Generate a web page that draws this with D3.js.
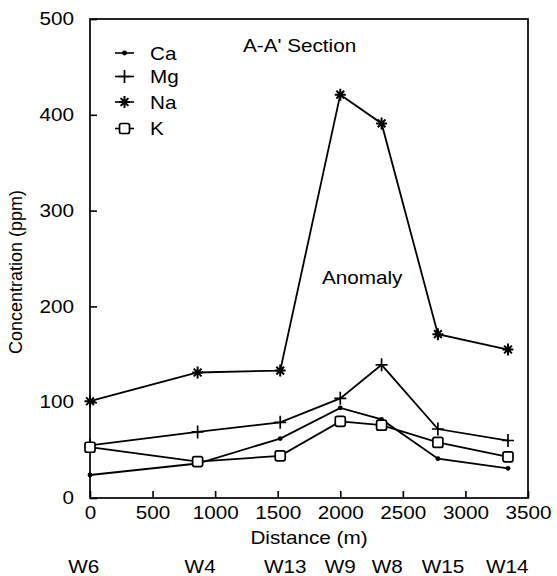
<!DOCTYPE html>
<html><head><meta charset="utf-8">
<script src="https://cdn.jsdelivr.net/npm/d3@7"></script>
<style>body{margin:0;background:#fff}svg{display:block}text{font-family:"Liberation Sans",Arial,sans-serif;fill:#000}</style>
</head><body>
<svg id="c" width="557" height="576"></svg>
<script>
const distances = [0, 860, 1520, 2000, 2330, 2780, 3340];
const wells = ["W6", "W4", "W13", "W9", "W8", "W15", "W14"];
const wellLabelDistance = [-50, 880, 1560, 2000, 2375, 2820, 3335];
const ca = [24, 36, 62, 94, 82, 41, 31];
const mg = [55, 69, 79, 104, 139, 72, 60];
const na = [101, 131, 133, 421, 391, 171, 155];
const k  = [53, 38, 44, 80, 76, 58, 43];
const xTicks = [0, 500, 1000, 1500, 2000, 2500, 3000, 3500];
const yTicks = [0, 100, 200, 300, 400, 500];

const svg = d3.select("#c");
const x = d3.scaleLinear().domain([0, 3500]).range([90, 528]);
const y = d3.scaleLinear().domain([0, 500]).range([498, 19]);
const fs = 18, sx = 1.15;

function txt(px, py, s, anchor) {
  return svg.append("text").attr("transform", `translate(${px},${py}) scale(${sx},1)`)
    .attr("text-anchor", anchor || "start").attr("font-size", fs).text(s);
}

// frame
svg.append("rect").attr("x", 90).attr("y", 19).attr("width", 438).attr("height", 479)
  .attr("fill", "none").attr("stroke", "#000").attr("stroke-width", 1.7);

// x axis
const xa = svg.append("g").attr("transform", "translate(0,498)")
  .call(d3.axisBottom(x).tickValues(xTicks).tickSizeInner(-7).tickSizeOuter(0).tickPadding(8).tickFormat(d3.format("d")));
xa.select(".domain").remove();
xa.selectAll("line").attr("stroke-width", 1.6);
xa.selectAll("text").attr("font-size", fs).attr("transform", `scale(${sx},1)`).style("font-family", "Liberation Sans, Arial, sans-serif");

// y axis
const ya = svg.append("g").attr("transform", "translate(90,0)")
  .call(d3.axisLeft(y).tickValues(yTicks).tickSizeInner(-7).tickSizeOuter(0).tickPadding(14).tickFormat(d3.format("d")));
ya.select(".domain").remove();
ya.selectAll("line").attr("stroke-width", 1.6);
ya.selectAll("text").attr("font-size", fs).attr("transform", `scale(${sx},1)`).style("font-family", "Liberation Sans, Arial, sans-serif");

txt(309, 543.5, "Distance (m)", "middle");
svg.append("text").attr("transform", "translate(22,272) rotate(-90)").attr("text-anchor", "middle").attr("font-size", fs).text("Concentration (ppm)");
txt(243, 51.5, "A-A' Section");
txt(322, 284, "Anomaly");

// well labels
wells.forEach((w, i) => txt(x(wellLabelDistance[i]), 573, w, "middle"));

// markers
function marker(g, type, cx, cy) {
  if (type === "ca") {
    g.append("circle").attr("cx", cx).attr("cy", cy).attr("r", 2.4).attr("fill", "#000");
  } else if (type === "mg") {
    g.append("path").attr("d", `M${cx-6},${cy}H${cx+6}M${cx},${cy-6.5}V${cy+6.5}`).attr("stroke", "#000").attr("stroke-width", 1.7).attr("fill", "none");
  } else if (type === "na") {
    let d = `M${cx-5.5},${cy}H${cx+5.5}M${cx},${cy-6}V${cy+6}`;
    [45, 135].forEach(a => { const r = a * Math.PI / 180; d += `M${cx - 5.5*Math.cos(r)},${cy - 5.5*Math.sin(r)}L${cx + 5.5*Math.cos(r)},${cy + 5.5*Math.sin(r)}`; });
    g.append("path").attr("d", d).attr("stroke", "#000").attr("stroke-width", 2).attr("fill", "none");
  } else {
    g.append("rect").attr("x", cx-5).attr("y", cy-5).attr("width", 10).attr("height", 10).attr("rx", 2)
      .attr("fill", "#fff").attr("stroke", "#000").attr("stroke-width", 1.7);
  }
}

const series = [
  {key: "ca", name: "Ca", values: ca},
  {key: "mg", name: "Mg", values: mg},
  {key: "na", name: "Na", values: na},
  {key: "k", name: "K", values: k}
];
const line = d3.line().x((d, i) => x(distances[i])).y(d => y(d));
series.forEach(s => {
  const g = svg.append("g");
  g.append("path").attr("d", line(s.values)).attr("fill", "none").attr("stroke", "#000").attr("stroke-width", 1.8);
  s.values.forEach((v, i) => marker(g, s.key, x(distances[i]), y(v)));
});

// legend
const legY = [53, 76.5, 102, 128.5];
series.forEach((s, i) => {
  const g = svg.append("g");
  g.append("line").attr("x1", 115).attr("x2", 134).attr("y1", legY[i]).attr("y2", legY[i]).attr("stroke", "#000").attr("stroke-width", 1.6);
  marker(g, s.key, 124.5, legY[i]);
  txt(150, legY[i] + 6.5, s.name);
});
</script>
</body></html>
